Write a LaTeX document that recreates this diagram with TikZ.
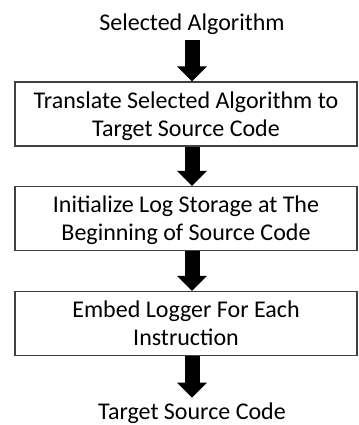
\documentclass[tikz,border=0pt]{standalone}
\usepackage{fontspec}
\setmainfont{Carlito}
\usetikzlibrary{arrows.meta}

\begin{document}
\begin{tikzpicture}[x=0.75pt,y=-0.75pt,
		stepbox/.style={draw=black!75,line width=1pt,minimum width=256.5pt,minimum height=48pt,inner sep=0pt,text depth=0pt,align=center,font=\fontsize{18}{21}\selectfont},
		term/.style={inner sep=0pt,font=\fontsize{18}{21}\selectfont},
		bigarrow/.style={line width=11.25pt,-{Triangle[width=21.75pt,length=11.25pt]}}]
			\useasboundingbox (0,0) rectangle (358,425);
			\node[term,minimum height=24pt] (src) at (192,24) {Selected Algorithm};
			\node[stepbox] (b1) at (186,114) {Translate Selected Algorithm to\\Target Source Code};
			\node[stepbox] (b2) at (186,218.5) {Initialize Log Storage at The\\Beginning of Source Code};
			\node[stepbox] (b3) at (186,323.5) {Embed Logger For Each\\Instruction};
			\node[term,minimum height=22.5pt] (dst) at (192,413) {Target Source Code};
			\draw[bigarrow] (src.south) -- (src.south |- b1.north);
			\draw[bigarrow] ([xshift=4.5pt]b1.south) -- ([xshift=4.5pt]b2.north);
			\draw[bigarrow] ([xshift=4.5pt]b2.south) -- ([xshift=4.5pt]b3.north);
			\draw[bigarrow] ([xshift=4.5pt]b3.south) -- (dst.north);
\end{tikzpicture}
\end{document}
